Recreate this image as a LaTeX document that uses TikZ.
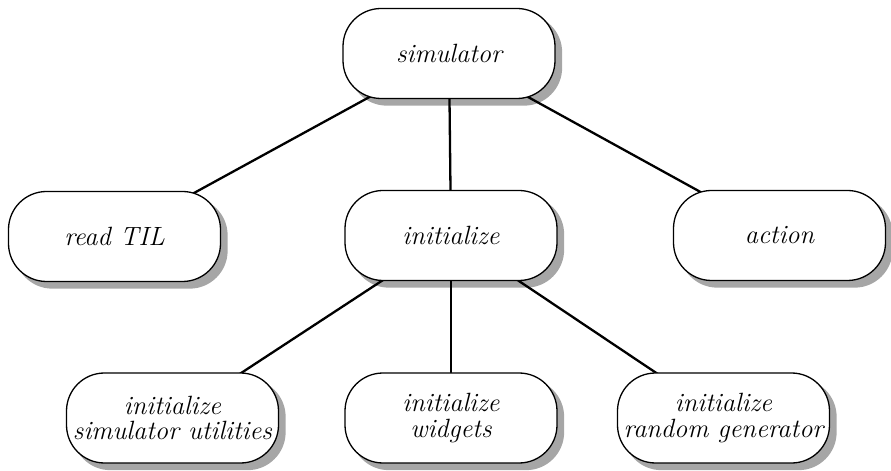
\documentclass[tikz,border=0pt]{standalone}
\usetikzlibrary{backgrounds}
\begin{document}
\begin{tikzpicture}[x=1bp,y=-1bp,
  task/.style={draw=black, line width=1.3bp, fill=white, rounded corners=38bp,
    minimum width=212bp, minimum height=90bp, inner sep=0pt, align=center,
    font=\fontsize{26.5}{25.5}\selectfont\itshape},
  link/.style={line width=2.3bp, draw=black},
  boxshade/.style={fill=black!35, rounded corners=38bp}]
\useasboundingbox (0,0) rectangle (891,471);

% call tree
\node[task] (sim)  at (449,53.5)  {simulator};
\node[task] (read) at (114.5,236.5) {read TIL};
\node[task] (init) at (451,235.5) {initialize};
\node[task] (act)  at (779.5,235.5) {action};
\node[task] (util) at (172.5,418) {initialize\\simulator utilities};
\node[task] (widg) at (451,418)   {initialize\\widgets};
\node[task] (rand) at (723.5,418) {initialize\\random generator};

\begin{pgfonlayer}{background}
  % drop shadows below the boxes
  \foreach \n in {sim,read,init,act,util,widg,rand}
    \fill[boxshade] ([shift={(6.5bp,-6.5bp)}]\n.south west)
                    rectangle ([shift={(6.5bp,-6.5bp)}]\n.north east);
  % connectors, hidden inside the white boxes
  \draw[link] (sim.center) -- (read.center);
  \draw[link] (sim.center) -- (init.center);
  \draw[link] (sim.center) -- (act.center);
  \draw[link] (init.center) -- (util.center);
  \draw[link] (init.center) -- (widg.center);
  \draw[link] (init.center) -- (rand.center);
\end{pgfonlayer}
\end{tikzpicture}
\end{document}
